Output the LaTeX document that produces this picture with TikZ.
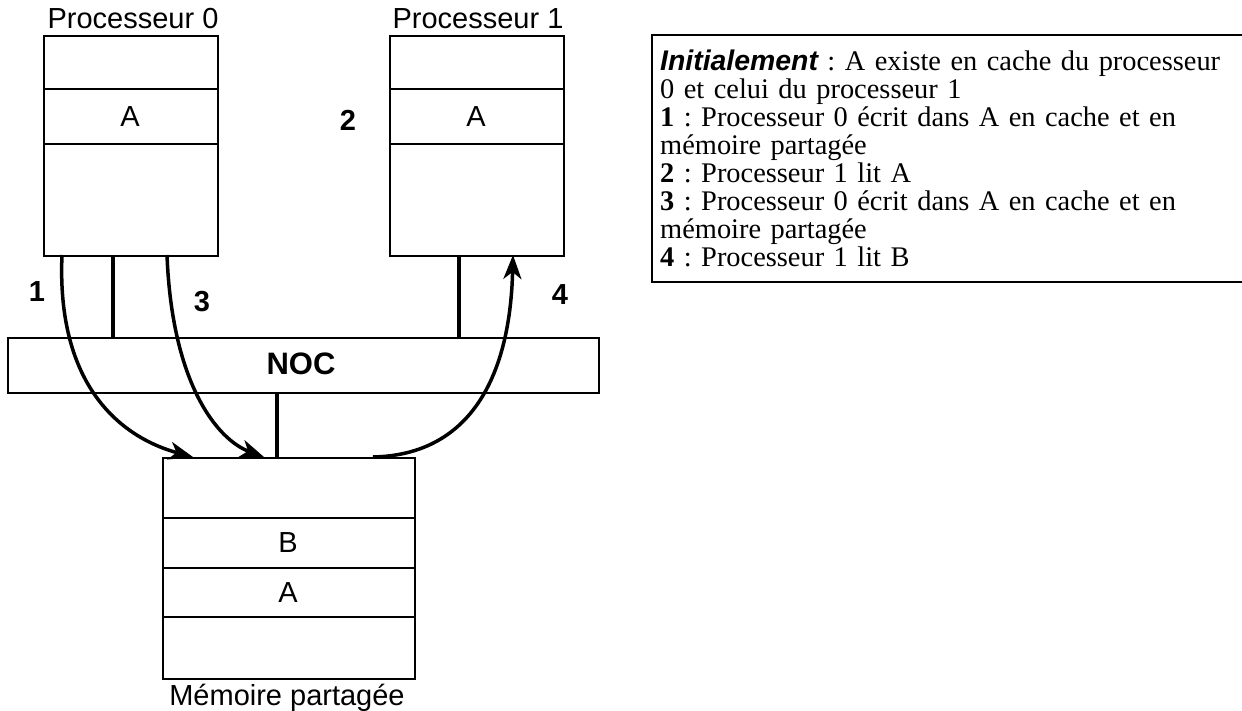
\documentclass[tikz,border=0pt]{standalone}
\usepackage{fontspec}
\setmainfont{Liberation Serif}
\setsansfont{Liberation Sans}
\usetikzlibrary{arrows.meta}
\tikzset{
  box/.style={draw, line width=2.2pt},
  sep/.style={line width=2.2pt},
  link/.style={line width=3.5pt},
  flow/.style={line width=3.5pt, -{Stealth[length=24pt,width=18pt,inset=7pt]}},
  lbl/.style={font=\sffamily\fontsize{29}{33}\selectfont, inner sep=0pt},
  num/.style={font=\sffamily\bfseries\fontsize{29}{33}\selectfont, inner sep=0pt},
}
\begin{document}
\frenchspacing
\begin{tikzpicture}[x=1pt,y=-1pt]
\useasboundingbox (0,0) rectangle (1242,711);
% Processor 0
\node[lbl] (p0lbl) at (133,19) {Processeur 0};
\node[box, minimum width=174pt, minimum height=220pt, inner sep=0pt, anchor=north west] (p0) at (43,35) {};
\draw[sep] (43,89) -- (217,89) (43,144) -- (217,144);
\node[lbl] (p0a) at (130,117) {A};
% Processor 1
\node[lbl] (p1lbl) at (478,19) {Processeur 1};
\node[box, minimum width=174pt, minimum height=220pt, inner sep=0pt, anchor=north west] (p1) at (389,35) {};
\draw[sep] (389,89) -- (563,89) (389,144) -- (563,144);
\node[lbl] (p1a) at (476,117) {A};
\node[num] (n2) at (348,120) {2};
% NOC
\node[box, minimum width=591pt, minimum height=55pt, inner sep=0pt, anchor=north west] (noc) at (7,337) {};
\node[num, font=\sffamily\bfseries\fontsize{31}{35}\selectfont] (noclbl) at (301,364) {NOC};
% Memory
\node[box, minimum width=252pt, minimum height=221pt, inner sep=0pt, anchor=north west] (mem) at (162,457) {};
\draw[sep] (162,518) -- (414,518) (162,568) -- (414,568) (162,617) -- (414,617);
\node[lbl] (mb) at (288,543) {B};
\node[lbl] (ma) at (288,593) {A};
\node[lbl] (memlbl) at (287,698) {Mémoire partagée};
% connectors
\coordinate (c0) at (113,255);
\coordinate (c0n) at (113,337);
\coordinate (c1) at (459,255);
\coordinate (c1n) at (459,337);
\coordinate (cn) at (277,392);
\coordinate (cm) at (277,457);
\draw[link] (c0) -- (c0n);
\draw[link] (c1) -- (c1n);
\draw[link] (cn) -- (cm);
% arrows
\coordinate (a1s) at (62,255);
\coordinate (a1e) at (193,457);
\coordinate (a3s) at (167,255);
\coordinate (a3e) at (264,457);
\coordinate (a4s) at (373,457);
\coordinate (a4e) at (513,255);
\draw[flow] (a1s) .. controls (56,395) and (130,440) .. (a1e);
\draw[flow] (a3s) .. controls (172,385) and (218,440) .. (a3e);
\draw[flow] (a4s) .. controls (468,455) and (510,380) .. (a4e);
\node[num] (n1) at (37,292) {1};
\node[num] (n3) at (202,302) {3};
\node[num] (n4) at (560,295) {4};
% legend
\coordinate (bx1) at (1250,35);
\coordinate (bx2) at (652,35);
\coordinate (bx3) at (652,282);
\coordinate (bx4) at (1250,282);
\draw[line width=2.2pt] (bx1) -- (bx2) -- (bx3) -- (bx4);
\node[anchor=north west, inner sep=0pt, text width=580pt, align=left,
      font=\fontsize{28.4}{28}\selectfont] (legend) at (660,50) {%
{\sffamily\bfseries\itshape Initialement} : A existe en cache du processeur\\
0 et celui du processeur 1\\
\textbf{1} : Processeur 0 écrit dans A en cache et en\\
mémoire partagée\\
\textbf{2} : Processeur 1 lit A\\
\textbf{3} : Processeur 0 écrit dans A en cache et en\\
mémoire partagée\\
\textbf{4} : Processeur 1 lit B};
\end{tikzpicture}
\end{document}
